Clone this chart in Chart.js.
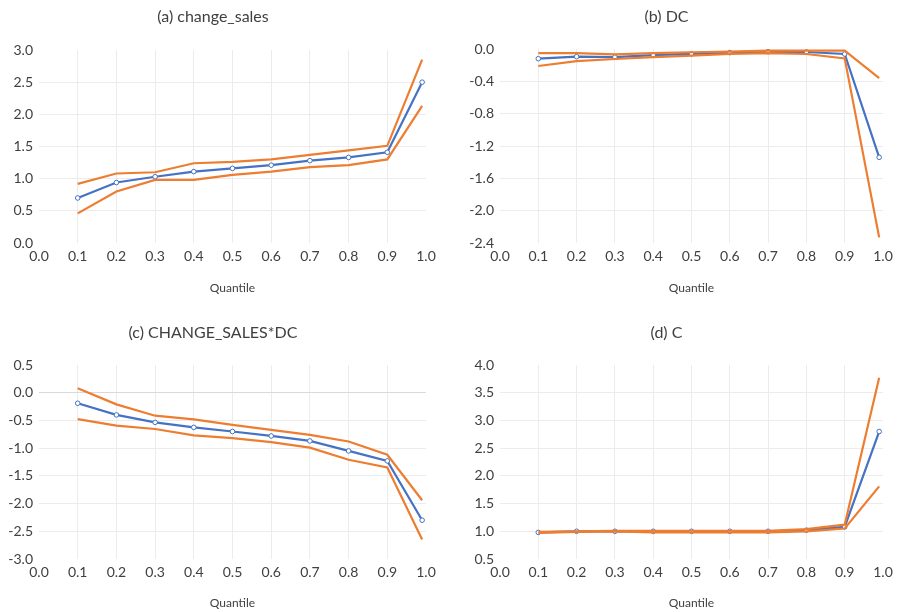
<!DOCTYPE html>
<html>
<head>
<meta charset="utf-8">
<script src="https://cdn.jsdelivr.net/npm/chart.js@4"></script>
<style>
  body { margin: 0; background: #fff; }
  #wrap { position: relative; width: 899px; height: 612px; overflow: hidden; }
  canvas { position: absolute; }
</style>
</head>
<body>
<div id="wrap">
  <canvas id="chartA" width="449" height="305" style="left:0;top:0"></canvas>
  <canvas id="chartB" width="449" height="305" style="left:450px;top:0"></canvas>
  <canvas id="chartC" width="449" height="307" style="left:0;top:305px"></canvas>
  <canvas id="chartD" width="449" height="307" style="left:450px;top:305px"></canvas>
</div>
<script>
// quantiles on the x axis (last one sits just short of 1.0)
const quantiles = [0.1, 0.2, 0.3, 0.4, 0.5, 0.6, 0.7, 0.8, 0.9, 0.99];

// (a) change_sales
const salesEst   = [0.70, 0.94, 1.03, 1.11, 1.16, 1.21, 1.28, 1.33, 1.41, 2.50];
const salesUpper = [0.92, 1.08, 1.10, 1.24, 1.26, 1.30, 1.37, 1.44, 1.51, 2.85];
const salesLower = [0.46, 0.80, 0.98, 0.98, 1.06, 1.11, 1.18, 1.21, 1.30, 2.13];

// (b) DC
const dcEst   = [-0.12, -0.095, -0.10, -0.075, -0.06, -0.045, -0.033, -0.037, -0.062, -1.34];
const dcUpper = [-0.05, -0.05, -0.066, -0.05, -0.04, -0.033, -0.02, -0.02, -0.02, -0.36];
const dcLower = [-0.21, -0.15, -0.124, -0.10, -0.083, -0.062, -0.05, -0.062, -0.116, -2.33];

// (c) CHANGE_SALES*DC
const interEst   = [-0.19, -0.40, -0.535, -0.625, -0.70, -0.78, -0.87, -1.05, -1.23, -2.30];
const interUpper = [0.08, -0.21, -0.415, -0.48, -0.58, -0.67, -0.76, -0.88, -1.12, -1.94];
const interLower = [-0.475, -0.595, -0.655, -0.77, -0.82, -0.89, -0.99, -1.21, -1.35, -2.65];

// (d) C
const cEst   = [0.98, 1.00, 1.00, 1.00, 1.00, 1.00, 1.00, 1.02, 1.08, 2.80];
const cUpper = [0.99, 1.00, 1.01, 1.01, 1.01, 1.01, 1.01, 1.04, 1.12, 3.77];
const cLower = [0.97, 0.99, 1.00, 0.98, 0.98, 0.98, 0.98, 1.00, 1.05, 1.81];

const BLUE = '#4472c4';
const ORANGE = '#ed7d31';
const GRID = '#ececec';
const FONT = 'Lato, "Open Sans", sans-serif';

function pts(ys) {
    return quantiles.map((q, i) => ({ x: q, y: ys[i] }));
}

function fmt(v) {
    if (Math.abs(v) < 1e-9) v = 0;
    return v.toFixed(1);
}

function near(a, b) { return Math.abs(a - b) < 1e-6; }

// lay = chart area in canvas coords + text positions
function makeChart(id, title, est, upper, lower, yMin, yMax, yStep, lay) {
    const ctx = document.getElementById(id).getContext('2d');
    const H = ctx.canvas.height;
    const W = ctx.canvas.width;
    return new Chart(ctx, {
        type: 'scatter',
        data: {
            datasets: [
                { data: pts(upper), borderColor: ORANGE, borderWidth: 2.2, pointRadius: 0, showLine: true },
                { data: pts(lower), borderColor: ORANGE, borderWidth: 2.2, pointRadius: 0, showLine: true },
                { data: pts(est), borderColor: BLUE, borderWidth: 2.2, showLine: true,
                  pointRadius: 2.3, pointBorderWidth: 1, pointBorderColor: BLUE, pointBackgroundColor: '#ffffff' }
            ]
        },
        options: {
            responsive: false,
            animation: false,
            layout: { padding: { left: 0, right: W - lay.right, top: 0, bottom: 0 } },
            plugins: {
                legend: { display: false },
                tooltip: { enabled: false },
                title: {
                    display: true,
                    text: title,
                    color: '#404040',
                    font: { family: FONT, size: 16, weight: 'normal' },
                    padding: { top: lay.titleY - 9.6, bottom: lay.top - lay.titleY - 9.6 }
                }
            },
            scales: {
                x: {
                    type: 'linear',
                    min: 0, max: 1,
                    border: { display: false },
                    grid: {
                        drawTicks: false,
                        lineWidth: 1,
                        color: c => (near(c.tick.value, 0) || near(c.tick.value, 1)) ? 'rgba(0,0,0,0)' : GRID
                    },
                    ticks: {
                        stepSize: 0.1,
                        padding: 5,
                        color: '#404040',
                        font: { family: FONT, size: 14 },
                        maxRotation: 0,
                        callback: v => fmt(v)
                    },
                    title: {
                        display: true,
                        text: 'Quantile',
                        color: '#404040',
                        font: { family: FONT, size: 12 },
                        padding: { top: 0, bottom: H - lay.quantY - 7.2 }
                    },
                    afterFit: s => { s.height = H - lay.bottom; }
                },
                y: {
                    min: yMin, max: yMax,
                    border: { display: false },
                    grid: {
                        drawTicks: false,
                        lineWidth: 1,
                        color: c => {
                            const v = c.tick.value;
                            if (near(v, yMin) || near(v, yMax)) return 'rgba(0,0,0,0)';
                            if (near(v, 0)) return '#d9d9d9';
                            return GRID;
                        }
                    },
                    ticks: {
                        stepSize: yStep,
                        padding: 6,
                        color: '#404040',
                        font: { family: FONT, size: 14 },
                        callback: v => fmt(v)
                    },
                    afterFit: s => { s.width = lay.left; }
                }
            }
        }
    });
}

makeChart('chartA', '(a) change_sales', salesEst, salesUpper, salesLower, 0, 3, 0.5,
    { left: 39, right: 426, top: 50, bottom: 243, titleY: 17, quantY: 288 });
makeChart('chartB', '(b) DC', dcEst, dcUpper, dcLower, -2.4, 0, 0.4,
    { left: 50, right: 433, top: 49, bottom: 243, titleY: 17, quantY: 288 });
makeChart('chartC', '(c) CHANGE_SALES*DC', interEst, interUpper, interLower, -3, 0.5, 0.5,
    { left: 39, right: 426, top: 60, bottom: 254, titleY: 28, quantY: 298 });
makeChart('chartD', '(d) C', cEst, cUpper, cLower, 0.5, 4, 0.5,
    { left: 50, right: 433, top: 60, bottom: 254, titleY: 28, quantY: 298 });
</script>
</body>
</html>
